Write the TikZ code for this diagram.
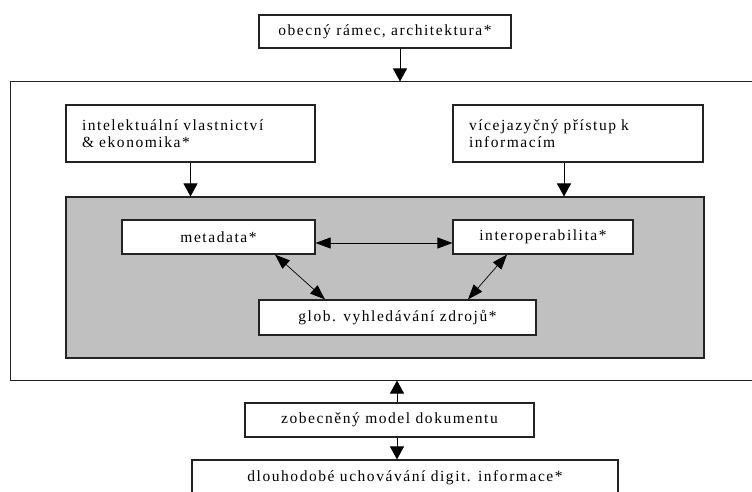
\documentclass[tikz,border=0pt]{standalone}
\usepackage{fontspec}
\setmainfont[LetterSpace=10]{Liberation Serif}
\usetikzlibrary{arrows.meta}
\definecolor{boxgray}{RGB}{192,192,192}
\definecolor{edge}{RGB}{35,35,35}

\begin{document}
\begin{tikzpicture}[x=1pt,y=-1pt,
    box/.style={draw=edge,line width=1.2pt,fill=white,inner sep=0pt,
      font=\fontsize{15.5}{17}\selectfont},
    tallbox/.style={box,align=left,inner xsep=16pt},
    dnarrow/.style={-{Triangle[width=14pt,length=13pt]},line width=0.9pt},
    dblarrow/.style={{Triangle[width=11pt,length=15pt]}-{Triangle[width=11pt,length=15pt]},line width=0.7pt}]
  \useasboundingbox (0,0) rectangle (752,492);
  % frame and grey core
  \node[draw=edge,line width=1pt,minimum width=750pt,minimum height=298pt,inner sep=0pt] (frame) at (385,231) {};
  \node[draw=edge,line width=1.1pt,fill=boxgray,minimum width=638pt,minimum height=161pt,inner sep=0pt] (core) at (385,277.5) {};
  % top and bottom boxes
  \node[box,minimum width=252pt,minimum height=33pt] (ramec) at (385,31.5) {obecný rámec, architektura*};
  \node[box,minimum width=289pt,minimum height=34pt] (model) at (389.5,420) {zobecněný model dokumentu};
  \node[box,minimum width=426pt,minimum height=36pt] (uchov) at (405,478) {dlouhodobé uchovávání digit. informace*};
  % boxes inside the frame
  \node[tallbox,text width=217pt,minimum height=57pt] (ipr) at (190.5,133.5) {intelektuální vlastnictví\\\& ekonomika*};
  \node[tallbox,text width=218pt,minimum height=57pt] (lang) at (578,133.5) {vícejazyčný přístup k\\informacím};
  \node[box,minimum width=193pt,minimum height=34pt] (meta) at (218.5,237) {metadata*};
  \node[box,minimum width=180pt,minimum height=34pt] (inter) at (543,237) {interoperabilita*};
  \node[box,minimum width=277pt,minimum height=35pt] (glob) at (397.5,317.5) {glob. vyhledávání zdrojů*};
  \coordinate (lang-out) at ([xshift=-14pt]lang.south);
  % connectors
  \draw[dnarrow] (ramec.south -| 400,0) -- (frame.north -| 400,0);
  \draw[dnarrow] (ipr.south) -- (core.north -| ipr.south);
  \draw[dnarrow] (lang-out) -- (core.north -| lang-out);
  \draw[dblarrow] ([yshift=-6pt]meta.east) -- ([yshift=-6pt]inter.west);
  \draw[dblarrow] ([xshift=56.5pt]meta.south) -- ([xshift=-72.5pt]glob.north);
  \draw[dblarrow] ([xshift=-36pt]inter.south) -- ([xshift=70.5pt]glob.north);
  \draw[dnarrow] (model.north -| 397,0) -- (frame.south -| 397,0);
  \draw[dnarrow] (model.south -| 397,0) -- (uchov.north -| 397,0);
\end{tikzpicture}
\end{document}
